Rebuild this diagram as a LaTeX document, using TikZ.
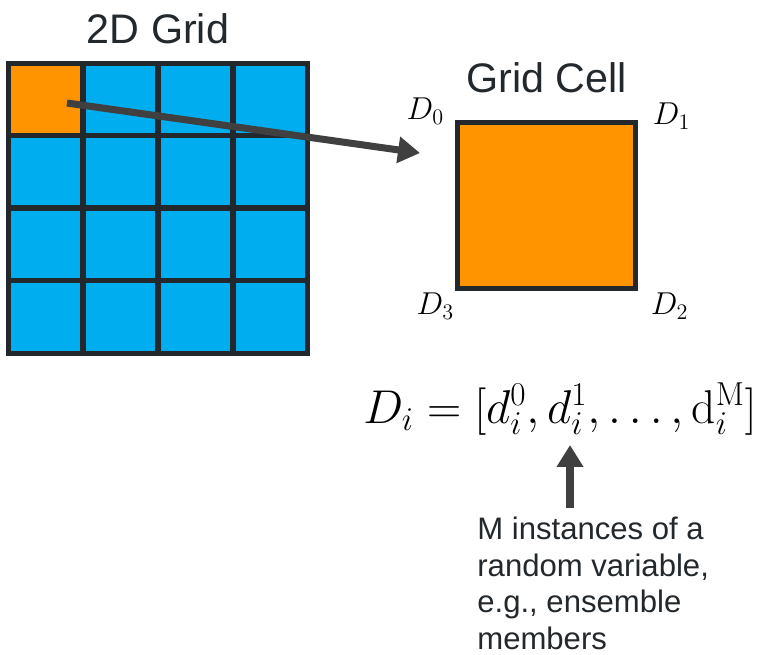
\RequirePackage{fix-cm}
\documentclass[tikz,border=0pt]{standalone}
\usepackage{fontspec}
\newfontfamily\labelfont{Liberation Sans}
\definecolor{gridblue}{RGB}{0,174,239}
\definecolor{cellorange}{RGB}{255,147,0}
\definecolor{gridline}{RGB}{34,40,44}
\definecolor{arrowgray}{RGB}{64,64,64}
\definecolor{textdark}{RGB}{34,40,44}
\usetikzlibrary{arrows.meta,positioning}

\begin{document}
\begin{tikzpicture}[x=0.02cm, y=-0.02cm,
  gridcell/.style={draw=gridline, line width=2.85pt, fill=gridblue, inner sep=0pt, outer sep=0pt,
    minimum width=1.5cm, minimum height=1.45cm},
  titlelabel/.style={font=\labelfont\fontsize{23.5}{28}\selectfont, text=textdark, inner sep=0pt},
  cornerlabel/.style={font=\fontsize{18}{21}\selectfont, inner sep=0pt},
  pointer/.style={-{Triangle[length=12.5pt, width=14.5pt]}, arrowgray, line width=4pt}]
\useasboundingbox (0,0) rectangle (761,654);

% 2D grid
\foreach \r in {1,...,4}
  \foreach \c in {1,...,4}
    \node[gridcell] (c\r\c) at ({45.5+75*(\c-1)}, {99.25+72.5*(\r-1)}) {};
\node[gridcell, fill=cellorange] (c11) at (45.5,99.25) {};
\node[titlelabel, anchor=base] (gridtitle) at (158,43) {2D Grid};

% Grid cell with corner values
\node[draw=gridline, line width=2.85pt, fill=cellorange, inner sep=0pt,
  minimum width=3.58cm, minimum height=3.34cm] (cell) at (546.5,205.5) {};
\node[titlelabel, anchor=base] (celltitle) at (546.5,92) {Grid Cell};

\node[cornerlabel, anchor=base east] (d0) at ([xshift=-0.2cm]cell.north west) {$D_0$};
\node[cornerlabel, anchor=base west] (d1) at ([xshift=0.28cm, yshift=-0.1cm]cell.north east) {$D_1$};
\node[cornerlabel, anchor=base east] (d3) at ([yshift=-0.46cm]cell.south west) {$D_3$};
\node[cornerlabel, anchor=base west] (d2) at ([xshift=0.24cm, yshift=-0.46cm]cell.south east) {$D_2$};

\coordinate (from) at (67,103);
\coordinate (to) at (420,153);
\draw[pointer] (from) -- (to);

% Ensemble formula
\node[font=\fontsize{27}{32}\selectfont, inner sep=0pt, anchor=base] (formula) at (560,423)
  {$D_i = [d_i^0, d_i^1, \ldots, \mathrm{d}_i^{\mathrm{M}}]$};

\node[font=\labelfont\fontsize{17.7}{20.8}\selectfont, text=textdark, align=left,
  inner sep=0pt, anchor=north west] (note) at (477,517)
  {M instances of a\\random variable,\\e.g., ensemble\\members};

\coordinate (upfoot) at (570,508);
\coordinate (uptip) at (570,445);
\draw[pointer] (upfoot) -- (uptip);

\end{tikzpicture}
\end{document}
